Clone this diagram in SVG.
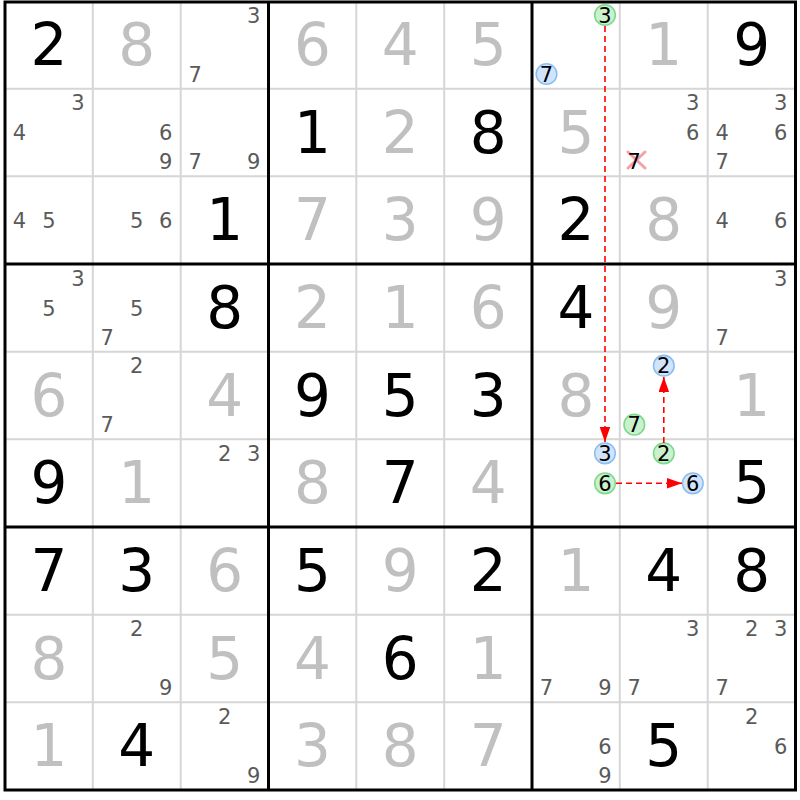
<svg xmlns="http://www.w3.org/2000/svg" width="800" height="800" viewBox="0 0 800 800">
<defs>
<style>
text{font-family:"DejaVu Sans","Liberation Sans",sans-serif;text-anchor:middle}
.g{font-size:58px;fill:#000}
.s{font-size:58px;fill:#c0c0c0}
.c{font-size:21px;fill:#5a5a5a}
.k{font-size:21px;fill:#000}
.cb{fill:#d0e5fb;stroke:#8cbff0;stroke-width:1.6}
.cg{fill:#caf1cd;stroke:#7fd98b;stroke-width:1.6}
.thin{stroke:#d6d6d6;stroke-width:2}
.thick{stroke:#000;stroke-width:3}
.arr{stroke:#f00;stroke-width:1.6;stroke-dasharray:6,4;fill:none;marker-end:url(#ah)}
</style>
<marker id="ah" markerUnits="userSpaceOnUse" markerWidth="15" markerHeight="11" refX="15" refY="5.3" orient="auto">
<path d="M0,0 L15,5.3 L0,10.6 z" fill="#f00"/>
</marker>
</defs>
<rect width="800" height="800" fill="#fff"/>
<g id="grid">
<g class="thin">
<line x1="92.8" y1="1" x2="92.8" y2="790"/><line x1="180.7" y1="1" x2="180.7" y2="790"/>
<line x1="356.3" y1="1" x2="356.3" y2="790"/><line x1="444.2" y1="1" x2="444.2" y2="790"/>
<line x1="619.8" y1="1" x2="619.8" y2="790"/><line x1="707.7" y1="1" x2="707.7" y2="790"/>
<line x1="5" y1="88.7" x2="795.5" y2="88.7"/><line x1="5" y1="176.3" x2="795.5" y2="176.3"/>
<line x1="5" y1="351.7" x2="795.5" y2="351.7"/><line x1="5" y1="439.3" x2="795.5" y2="439.3"/>
<line x1="5" y1="614.7" x2="795.5" y2="614.7"/><line x1="5" y1="702.3" x2="795.5" y2="702.3"/>
</g>
<g class="thick">
<line x1="268.5" y1="1" x2="268.5" y2="790"/><line x1="532" y1="1" x2="532" y2="790"/>
<line x1="5" y1="264" x2="795.5" y2="264"/><line x1="5" y1="527" x2="795.5" y2="527"/>
<rect x="5" y="2" width="790.5" height="788" fill="none"/>
</g>
</g>
<g id="values">
<text class="g" x="48.9" y="65">2</text><text class="s" x="136.8" y="65">8</text><text class="s" x="312.4" y="65">6</text><text class="s" x="400.3" y="65">4</text><text class="s" x="488.1" y="65">5</text><text class="s" x="663.8" y="65">1</text><text class="g" x="751.6" y="65">9</text>
<text class="g" x="312.4" y="152.7">1</text><text class="s" x="400.3" y="152.7">2</text><text class="g" x="488.1" y="152.7">8</text><text class="s" x="575.9" y="152.7">5</text>
<text class="g" x="224.6" y="240.3">1</text><text class="s" x="312.4" y="240.3">7</text><text class="s" x="400.3" y="240.3">3</text><text class="s" x="488.1" y="240.3">9</text><text class="g" x="575.9" y="240.3">2</text><text class="s" x="663.8" y="240.3">8</text>
<text class="g" x="224.6" y="328">8</text><text class="s" x="312.4" y="328">2</text><text class="s" x="400.3" y="328">1</text><text class="s" x="488.1" y="328">6</text><text class="g" x="575.9" y="328">4</text><text class="s" x="663.8" y="328">9</text>
<text class="s" x="48.9" y="415.7">6</text><text class="s" x="224.6" y="415.7">4</text><text class="g" x="312.4" y="415.7">9</text><text class="g" x="400.3" y="415.7">5</text><text class="g" x="488.1" y="415.7">3</text><text class="s" x="575.9" y="415.7">8</text><text class="s" x="751.6" y="415.7">1</text>
<text class="g" x="48.9" y="503.3">9</text><text class="s" x="136.8" y="503.3">1</text><text class="s" x="312.4" y="503.3">8</text><text class="g" x="400.3" y="503.3">7</text><text class="s" x="488.1" y="503.3">4</text><text class="g" x="751.6" y="503.3">5</text>
<text class="g" x="48.9" y="591">7</text><text class="g" x="136.8" y="591">3</text><text class="s" x="224.6" y="591">6</text><text class="g" x="312.4" y="591">5</text><text class="s" x="400.3" y="591">9</text><text class="g" x="488.1" y="591">2</text><text class="s" x="575.9" y="591">1</text><text class="g" x="663.8" y="591">4</text><text class="g" x="751.6" y="591">8</text>
<text class="s" x="48.9" y="678.7">8</text><text class="s" x="224.6" y="678.7">5</text><text class="s" x="312.4" y="678.7">4</text><text class="g" x="400.3" y="678.7">6</text><text class="s" x="488.1" y="678.7">1</text>
<text class="s" x="48.9" y="766.3">1</text><text class="g" x="136.8" y="766.3">4</text><text class="s" x="312.4" y="766.3">3</text><text class="s" x="400.3" y="766.3">8</text><text class="s" x="488.1" y="766.3">7</text><text class="g" x="663.8" y="766.3">5</text>
</g>
<g id="candidates">
<text class="c" x="253.7" y="22.6">3</text><text class="c" x="195.2" y="81.6">7</text>
<text class="c" x="78" y="110.3">3</text><text class="c" x="19.5" y="140.3">4</text>
<text class="c" x="165.8" y="140.3">6</text><text class="c" x="165.8" y="169.3">9</text>
<text class="c" x="195.2" y="169.3">7</text><text class="c" x="253.7" y="169.3">9</text>
<text class="c" x="692.8" y="110.3">3</text><text class="c" x="692.8" y="140.3">6</text>
<text class="c" x="780.7" y="110.3">3</text><text class="c" x="722.2" y="140.3">4</text><text class="c" x="780.7" y="140.3">6</text><text class="c" x="722.2" y="169.3">7</text>
<text class="c" x="19.5" y="227.9">4</text><text class="c" x="49" y="227.9">5</text>
<text class="c" x="136.8" y="227.9">5</text><text class="c" x="165.8" y="227.9">6</text>
<text class="c" x="722.2" y="227.9">4</text><text class="c" x="780.7" y="227.9">6</text>
<text class="c" x="78" y="285.6">3</text><text class="c" x="49" y="315.6">5</text>
<text class="c" x="136.8" y="315.6">5</text><text class="c" x="107.3" y="344.6">7</text>
<text class="c" x="780.7" y="285.6">3</text><text class="c" x="722.2" y="344.6">7</text>
<text class="c" x="136.8" y="373.3">2</text><text class="c" x="107.3" y="432.3">7</text>
<text class="c" x="224.7" y="460.9">2</text><text class="c" x="253.7" y="460.9">3</text>
<text class="c" x="136.8" y="636.3">2</text><text class="c" x="165.8" y="695.3">9</text>
<text class="c" x="546.5" y="695.3">7</text><text class="c" x="605" y="695.3">9</text>
<text class="c" x="692.8" y="636.3">3</text><text class="c" x="634.3" y="695.3">7</text>
<text class="c" x="751.7" y="636.3">2</text><text class="c" x="780.7" y="636.3">3</text><text class="c" x="722.2" y="695.3">7</text>
<text class="c" x="224.7" y="723.9">2</text><text class="c" x="253.7" y="782.9">9</text>
<text class="c" x="605" y="753.9">6</text><text class="c" x="605" y="782.9">9</text>
<text class="c" x="751.7" y="723.9">2</text><text class="c" x="780.7" y="753.9">6</text>
</g>
<g id="eliminated">
<g stroke="#f4a0a6" stroke-width="3" stroke-linecap="round">
<line x1="628" y1="152" x2="645" y2="168"/><line x1="628" y1="168" x2="645" y2="152"/>
</g>
<text class="k" x="634.3" y="169.3">7</text>
</g>
<g id="r1c7-7"><circle class="cb" cx="546.5" cy="74" r="10.3"/><text class="k" x="546.5" y="81.6">7</text></g>
<g id="r1c7-3"><circle class="cg" cx="605" cy="15" r="10.3"/><text class="k" x="605" y="22.6">3</text></g>
<g id="r5c8-2"><circle class="cb" cx="663.8" cy="365.7" r="10.3"/><text class="k" x="663.8" y="373.3">2</text></g>
<g id="r5c8-7"><circle class="cg" cx="634.3" cy="424.7" r="10.3"/><text class="k" x="634.3" y="432.3">7</text></g>
<g id="r6c7-3"><circle class="cb" cx="605" cy="453.3" r="10.3"/><text class="k" x="605" y="460.9">3</text></g>
<g id="r6c7-6"><circle class="cg" cx="605" cy="483.3" r="10.3"/><text class="k" x="605" y="490.9">6</text></g>
<g id="r6c8-2"><circle class="cg" cx="663.8" cy="453.3" r="10.3"/><text class="k" x="663.8" y="460.9">2</text></g>
<g id="r6c8-6"><circle class="cb" cx="692.8" cy="483.3" r="10.3"/><text class="k" x="692.8" y="490.9">6</text></g>
<g id="connectors">
<line class="arr" x1="605" y1="26" x2="605" y2="442"/>
<line class="arr" x1="663.8" y1="443" x2="663.8" y2="377"/>
<line class="arr" x1="616" y1="483.3" x2="682" y2="483.3"/>
</g>
</svg>
